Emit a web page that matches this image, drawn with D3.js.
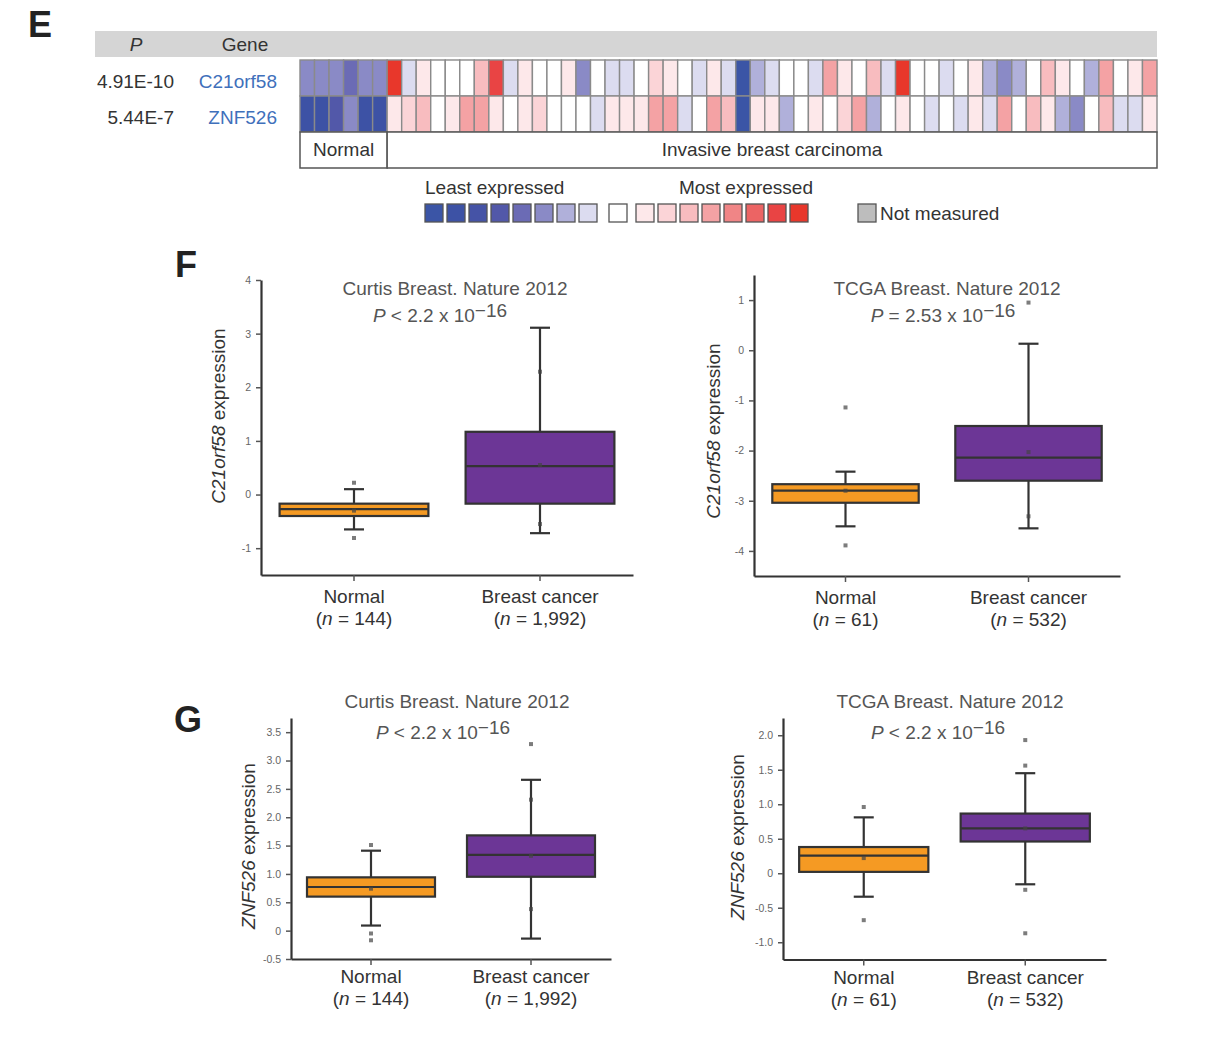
<!DOCTYPE html>
<html>
<head>
<meta charset="utf-8">
<script src="https://cdn.jsdelivr.net/npm/d3@7"></script>
<style>
body { margin: 0; background: #fff; }
text { font-family: "Liberation Sans", Arial, Helvetica, sans-serif; }
</style>
</head>
<body>
<div id="chart-area"></div>
<script>
// ---- heatmap (panel E): levels -8 = least expressed .. 8 = most expressed
var genes = ["C21orf58", "ZNF526"];
var pValues = ["4.91E-10", "5.44E-7"];
var normalLevels = [
	[-3, -3, -3, -4, -3, -3],
	[-7, -7, -5, -3, -7, -7]
];
var c21Invasive = [8,-1,1,0,0,0,3,7,-1,1,0,0,1,-3,0,-1,-1,0,2,1,0,-1,1,-1,-8,-2,-1,0,0,-1,4,1,0,3,-1,8,0,0,-1,0,1,-2,-3,-2,0,3,1,0,-2,4,0,1,4];
var znfInvasive = [1,2,3,0,1,4,4,1,0,1,2,0,0,0,-1,1,1,1,4,4,-1,0,4,3,-8,1,1,-2,0,1,0,2,4,-2,0,1,0,-1,0,-1,1,-1,4,0,3,1,-2,-3,0,3,-1,-1,1];
var levelColors = ["#3b55a6","#3d52a5","#4553a6","#5258a9","#6b6bb5","#8a8ac6","#b0b0da","#dcdcf0","#ffffff",
	"#fde8ea","#fbd4d7","#f8bcbf","#f4a2a4","#f08586","#ec6464","#e94444","#e8372b"];
var levels = d3.range(-8, 9);
var sampleGroups = ["Normal", "Invasive breast carcinoma"];

// ---- box plots (panels F, G): [lower whisker, Q1, median, Q3, upper whisker]
var groups = ["Normal", "Breast cancer"];
var curtisC21Box = [[-0.65, -0.40, -0.27, -0.17, 0.10], [-0.72, -0.17, 0.53, 1.17, 3.11]];
var curtisC21Pts = [[0.22, -0.30, -0.81], [2.29, 0.55, -0.55]];
var tcgaC21Box = [[-3.51, -3.04, -2.80, -2.67, -2.42], [-3.55, -2.60, -2.14, -1.51, 0.13]];
var tcgaC21Pts = [[-1.14, -2.80, -3.89], [0.95, -2.03, -3.31]];
var curtisZnfBox = [[0.09, 0.60, 0.77, 0.94, 1.41], [-0.14, 0.95, 1.335, 1.68, 2.66]];
var curtisZnfPts = [[1.51, 0.74, -0.05, -0.17], [3.29, 2.31, 1.32, 0.38]];
var tcgaZnfBox = [[-0.34, 0.02, 0.255, 0.38, 0.81], [-0.16, 0.46, 0.65, 0.865, 1.45]];
var tcgaZnfPts = [[0.96, 0.22, -0.68], [1.93, 1.56, 0.65, -0.24, -0.87]];
var curtisN = ["144", "1,992"];
var tcgaN = ["61", "532"];
var curtisC21Ticks = [-1, 0, 1, 2, 3, 4];
var tcgaC21Ticks = [-4, -3, -2, -1, 0, 1];
var curtisZnfTicks = [-0.5, 0, 0.5, 1, 1.5, 2, 2.5, 3, 3.5];
var tcgaZnfTicks = [-1, -0.5, 0, 0.5, 1, 1.5, 2];

var boxColors = ["#f59a23", "#6c3696"];
var ink = "#333";
var fs = "19px";

var svg = d3.select("#chart-area")
	.append("svg")
	.attr("width", 1230)
	.attr("height", 1038);

// panel letters
[["E", 28, 37], ["F", 175, 277], ["G", 174, 732]].forEach(function(p) {
	svg.append("text")
		.attr("x", p[1]).attr("y", p[2])
		.attr("font-size", "36px").attr("font-weight", "bold")
		.attr("fill", "#222")
		.text(p[0]);
});

// ================= heatmap =================
var color = d3.scaleOrdinal().domain(levels).range(levelColors);
var heatRows = [normalLevels[0].concat(c21Invasive), normalLevels[1].concat(znfInvasive)];
var nCols = heatRows[0].length;

var xCol = d3.scaleBand().domain(d3.range(nCols)).range([300, 1157]);
var yRow = d3.scaleBand().domain(genes).range([60, 132]);

svg.append("rect")
	.attr("x", 95).attr("y", 31)
	.attr("width", 1157 - 95).attr("height", 26)
	.attr("fill", "#d5d5d5");

svg.append("text")
	.attr("x", 136).attr("y", 51)
	.attr("text-anchor", "middle")
	.attr("font-size", fs).attr("font-style", "italic")
	.attr("fill", ink)
	.text("P");

svg.append("text")
	.attr("x", 245).attr("y", 51)
	.attr("text-anchor", "middle")
	.attr("font-size", fs)
	.attr("fill", ink)
	.text("Gene");

genes.forEach(function(gene, r) {
	var yc = yRow(gene) + yRow.bandwidth() / 2;
	svg.append("text")
		.attr("x", 174).attr("y", yc + 10)
		.attr("text-anchor", "end")
		.attr("font-size", fs)
		.attr("fill", ink)
		.text(pValues[r]);
	svg.append("text")
		.attr("x", 277).attr("y", yc + 10)
		.attr("text-anchor", "end")
		.attr("font-size", fs)
		.attr("fill", "#3f70bb")
		.text(gene);

	svg.selectAll(".cell-" + r)
		.data(heatRows[r])
		.enter()
		.append("rect")
		.attr("class", "cell-" + r)
		.attr("x", function(d, i) { return xCol(i); })
		.attr("y", yRow(gene))
		.attr("width", xCol.bandwidth())
		.attr("height", yRow.bandwidth())
		.attr("fill", function(d) { return color(d); })
		.attr("stroke", "#8a8a8a")
		.attr("stroke-width", 1.4);
});

// sample group boxes
var nNormal = normalLevels[0].length;
var groupSpans = [[0, nNormal], [nNormal, nCols]];
sampleGroups.forEach(function(name, i) {
	var gx0 = xCol(groupSpans[i][0]);
	var gx1 = groupSpans[i][1] == nCols ? 1157 : xCol(groupSpans[i][1]);
	svg.append("rect")
		.attr("x", gx0).attr("y", 132)
		.attr("width", gx1 - gx0).attr("height", 36)
		.attr("fill", "#fff")
		.attr("stroke", "#555")
		.attr("stroke-width", 1.5);
	svg.append("text")
		.attr("x", (gx0 + gx1) / 2).attr("y", 156)
		.attr("text-anchor", "middle")
		.attr("font-size", fs)
		.attr("fill", ink)
		.text(name);
});

// legend
var legend = svg.append("g");
legend.append("text")
	.attr("x", 425).attr("y", 194)
	.attr("font-size", fs).attr("fill", ink)
	.text("Least expressed");
legend.append("text")
	.attr("x", 813).attr("y", 194)
	.attr("text-anchor", "end")
	.attr("font-size", fs).attr("fill", ink)
	.text("Most expressed");

function legendX(i) {
	if (i < 8) return 425 + i * 22;
	if (i == 8) return 609;
	return 636 + (i - 9) * 22;
}
legend.selectAll(".key")
	.data(levels)
	.enter()
	.append("rect")
	.attr("class", "key")
	.attr("x", function(d, i) { return legendX(i); })
	.attr("y", 204)
	.attr("width", 18).attr("height", 18)
	.attr("fill", function(d) { return color(d); })
	.attr("stroke", "#555")
	.attr("stroke-width", 1.3);

legend.append("rect")
	.attr("x", 858).attr("y", 204)
	.attr("width", 18).attr("height", 18)
	.attr("fill", "#bdbdbd")
	.attr("stroke", "#555")
	.attr("stroke-width", 1.3);
legend.append("text")
	.attr("x", 880).attr("y", 220)
	.attr("font-size", fs).attr("fill", ink)
	.text("Not measured");

// ================= box plots =================
var panels = [
	{box: curtisC21Box, pts: curtisC21Pts, n: curtisN, ticks: curtisC21Ticks, gene: "C21orf58",
	 title: "Curtis Breast. Nature 2012", pText: " < 2.2 x 10",
	 x0: 261, x1: 633, yTop: 280, yBot: 575, domain: [-1.5, 4], dec: false,
	 titleX: 455, titleY: 295, pX: 440, pY: 322, labX: 218, labY: 416, lab1: 28, lab2: 50},
	{box: tcgaC21Box, pts: tcgaC21Pts, n: tcgaN, ticks: tcgaC21Ticks, gene: "C21orf58",
	 title: "TCGA Breast. Nature 2012", pText: " = 2.53 x 10",
	 x0: 754, x1: 1120, yTop: 275, yBot: 576, domain: [-4.5, 1.5], dec: false,
	 titleX: 947, titleY: 295, pX: 943, pY: 322, labX: 713, labY: 431, lab1: 28, lab2: 50},
	{box: curtisZnfBox, pts: curtisZnfPts, n: curtisN, ticks: curtisZnfTicks, gene: "ZNF526",
	 title: "Curtis Breast. Nature 2012", pText: " < 2.2 x 10",
	 x0: 291, x1: 611, yTop: 718, yBot: 959, domain: [-0.5, 3.75], dec: true,
	 titleX: 457, titleY: 708, pX: 443, pY: 739, labX: 248, labY: 846, lab1: 24, lab2: 46},
	{box: tcgaZnfBox, pts: tcgaZnfPts, n: tcgaN, ticks: tcgaZnfTicks, gene: "ZNF526",
	 title: "TCGA Breast. Nature 2012", pText: " < 2.2 x 10",
	 x0: 783, x1: 1106, yTop: 718, yBot: 959.5, domain: [-1.25, 2.25], dec: true,
	 titleX: 950, titleY: 708, pX: 938, pY: 739, labX: 737, labY: 837, lab1: 24, lab2: 46}
];

panels.forEach(drawPanel);

function drawPanel(p) {
	var g = svg.append("g");

	var x = d3.scaleBand().domain(groups).range([p.x0, p.x1]).paddingInner(0.2).paddingOuter(0.1);
	var y = d3.scaleLinear().domain(p.domain).range([p.yBot, p.yTop]);

	var fmt = function(d) {
		var s = p.dec ? (d == 0 ? "0" : d3.format(".1f")(d)) : d3.format("d")(d);
		return s.replace("\u2212", "-");
	};

	var yAxis = g.append("g")
		.attr("transform", "translate(" + p.x0 + ",0)")
		.call(d3.axisLeft(y).tickValues(p.ticks).tickFormat(fmt).tickSize(5).tickSizeOuter(0).tickPadding(5));
	var xAxis = g.append("g")
		.attr("transform", "translate(0," + p.yBot + ")")
		.call(d3.axisBottom(x).tickSize(6).tickSizeOuter(0).tickFormat(""));

	[yAxis, xAxis].forEach(function(a) {
		a.select(".domain").attr("stroke", ink).attr("stroke-width", 2.2);
		a.selectAll(".tick line").attr("stroke", "#555").attr("stroke-width", 1.5);
	});
	yAxis.selectAll(".tick text")
		.attr("font-size", "10.5px")
		.attr("fill", "#666")
		.attr("font-family", "'Liberation Sans', Arial, sans-serif");

	// whiskers, boxes, medians
	var bw = x.bandwidth();
	groups.forEach(function(grp, i) {
		var s = p.box[i];
		var cx = x(grp) + bw / 2;
		g.append("line")
			.attr("x1", cx).attr("x2", cx)
			.attr("y1", y(s[0])).attr("y2", y(s[4]))
			.attr("stroke", ink).attr("stroke-width", 2.2);
		[s[0], s[4]].forEach(function(v) {
			g.append("line")
				.attr("x1", cx - 10).attr("x2", cx + 10)
				.attr("y1", y(v)).attr("y2", y(v))
				.attr("stroke", ink).attr("stroke-width", 2.2);
		});
		g.append("rect")
			.attr("x", x(grp)).attr("y", y(s[3]))
			.attr("width", bw).attr("height", y(s[1]) - y(s[3]))
			.attr("fill", boxColors[i])
			.attr("stroke", ink).attr("stroke-width", 2.2);
		g.append("line")
			.attr("x1", x(grp)).attr("x2", x(grp) + bw)
			.attr("y1", y(s[2])).attr("y2", y(s[2]))
			.attr("stroke", ink).attr("stroke-width", 2.2);

		g.selectAll(".pt-" + i)
			.data(p.pts[i])
			.enter()
			.append("rect")
			.attr("class", "pt-" + i)
			.attr("x", cx - 2).attr("y", function(d) { return y(d) - 2; })
			.attr("width", 4).attr("height", 4)
			.attr("fill", "#444")
			.attr("opacity", 0.7);

		var lab = g.append("text")
			.attr("text-anchor", "middle")
			.attr("font-size", fs)
			.attr("fill", ink);
		lab.append("tspan").attr("x", cx).attr("y", p.yBot + p.lab1).text(grp);
		lab.append("tspan").attr("x", cx).attr("y", p.yBot + p.lab2).text("(");
		lab.append("tspan").attr("font-style", "italic").text("n");
		lab.append("tspan").text(" = " + p.n[i] + ")");
	});

	// titles
	g.append("text")
		.attr("x", p.titleX).attr("y", p.titleY)
		.attr("text-anchor", "middle")
		.attr("font-size", fs).attr("fill", "#555")
		.text(p.title);
	var pt = g.append("text")
		.attr("x", p.pX).attr("y", p.pY)
		.attr("text-anchor", "middle")
		.attr("font-size", fs).attr("fill", "#555");
	pt.append("tspan").attr("font-style", "italic").text("P");
	pt.append("tspan").text(p.pText);
	pt.append("tspan").attr("dy", -5).text("\u221216");

	// y label
	var yl = g.append("text")
		.attr("transform", "translate(" + p.labX + "," + p.labY + ") rotate(-90)")
		.attr("text-anchor", "middle")
		.attr("dy", "0.35em")
		.attr("font-size", fs).attr("fill", ink);
	yl.append("tspan").attr("font-style", "italic").text(p.gene);
	yl.append("tspan").text(" expression");
}
</script>
</body>
</html>
